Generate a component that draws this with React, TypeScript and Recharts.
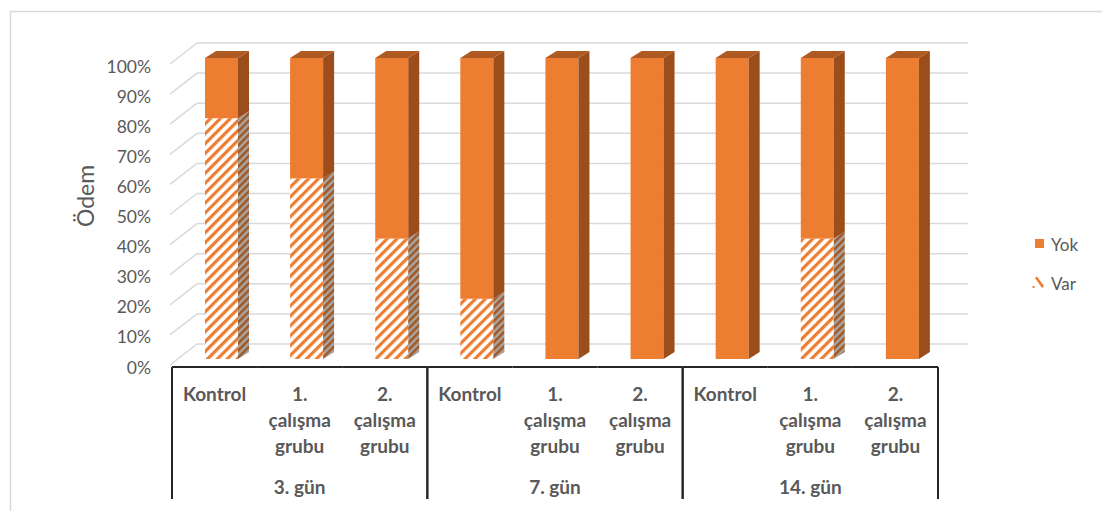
import { BarChart, Bar, XAxis, YAxis, CartesianGrid, Customized } from 'recharts';

const categories = [
  'Kontrol', '1. çalışma grubu', '2. çalışma grubu',
  'Kontrol', '1. çalışma grubu', '2. çalışma grubu',
  'Kontrol', '1. çalışma grubu', '2. çalışma grubu',
];
const groups = ['3. gün', '7. gün', '14. gün'];
const varValues = [80, 60, 40, 20, 0, 0, 0, 40, 0];
const yokValues = [20, 40, 60, 80, 100, 100, 100, 60, 100];
const yTicks = [0, 10, 20, 30, 40, 50, 60, 70, 80, 90, 100];
const seriesNames = ['Yok', 'Var'];

const data = categories.map((name, i) => ({
  key: `c${i}`,
  name,
  group: groups[Math.floor(i / 3)],
  Var: varValues[i],
  Yok: yokValues[i],
}));

const W = 1102;
const H = 511;
const margin = { top: 58, right: 164, bottom: 12, left: 100 };
const Y_AXIS_W = 72;
const X_AXIS_H = 140;
const plotLeft = margin.left + Y_AXIS_W;
const plotRight = W - margin.right;
const bandW = (plotRight - plotLeft) / categories.length;

const ORANGE = '#ED7D31';
const SIDE = '#9C4D1C';
const TOP = '#AE5A22';
const GRID = '#D9D9D9';
const TEXT = '#595959';
const FONT = 'Lato, "Open Sans", sans-serif';

// 3d look
const SHIFT = 7;
const DEPTH_X = 11;
const DEPTH_Y = 7;

function Box3D(props: any) {
  const { x, y, width, height, front, side, withTop } = props;
  if (height == null || width == null || height <= 0) return null;
  const fx = x + SHIFT;
  const r = fx + width;
  return (
    <g>
      <rect x={fx} y={y} width={width} height={height} fill={front} />
      <polygon
        points={`${r},${y} ${r + DEPTH_X},${y - DEPTH_Y} ${r + DEPTH_X},${y + height - DEPTH_Y} ${r},${y + height}`}
        fill={side}
      />
      {withTop && (
        <polygon
          points={`${fx},${y} ${fx + DEPTH_X},${y - DEPTH_Y} ${r + DEPTH_X},${y - DEPTH_Y} ${r},${y}`}
          fill={TOP}
        />
      )}
    </g>
  );
}

function GridLine(p: any) {
  const { x1, x2, y1, index } = p;
  return (
    <g key={`gl-${index}`}>
      <line x1={x1 - 2} y1={y1 + 6} x2={x1 + 25} y2={y1 - 15} stroke={GRID} strokeWidth={1.5} />
      <line x1={x1 + 25} y1={y1 - 15} x2={x2 + 30} y2={y1 - 15} stroke={GRID} strokeWidth={1.5} />
    </g>
  );
}

function YTick(p: any) {
  const { x, y, payload } = p;
  return (
    <text x={x - 21} y={y + 8} textAnchor="end" dominantBaseline="central" fill={TEXT} fontSize={17.5} fontFamily={FONT}>
      {`${payload.value}%`}
    </text>
  );
}

function XTick(p: any) {
  const { x, y, payload } = p;
  const i = payload.index;
  const lineY = y + 8;
  const lines = categories[i] === 'Kontrol' ? [categories[i]] : categories[i].split(' ');
  return (
    <g>
      <line x1={x - bandW / 2} y1={lineY} x2={x + bandW / 2} y2={lineY} stroke="#262626" strokeWidth={2} />
      {i % 3 === 0 && (
        <line x1={x - bandW / 2} y1={lineY} x2={x - bandW / 2} y2={lineY + 132} stroke="#262626" strokeWidth={2} />
      )}
      {i % 3 === 2 && (
        <line x1={x + bandW / 2} y1={lineY} x2={x + bandW / 2} y2={lineY + 132} stroke="#262626" strokeWidth={2} />
      )}
      {lines.map((t, k) => (
        <text key={k} x={x} y={lineY + 26 + k * 26} textAnchor="middle" dominantBaseline="central"
          fill={TEXT} fontSize={19} fontWeight="bold" fontFamily={FONT}>
          {t}
        </text>
      ))}
      {i % 3 === 1 && (
        <text x={x} y={lineY + 119} textAnchor="middle" dominantBaseline="central"
          fill={TEXT} fontSize={19} fontWeight="bold" fontFamily={FONT}>
          {groups[Math.floor(i / 3)]}
        </text>
      )}
    </g>
  );
}

function Extras() {
  return (
    <g>
      <rect x={10.5} y={11.5} width={1100} height={520} fill="none" stroke={GRID} strokeWidth={1.5} />
      <text x={85} y={196} transform="rotate(-90 85 196)" textAnchor="middle" dominantBaseline="central"
        fill={TEXT} fontSize={23} fontFamily={FONT}>
        Ödem
      </text>
      {/* legend */}
      <rect x={1035} y={239} width={9} height={9} fill={ORANGE} />
      <text x={1051} y={244} dominantBaseline="central" fill={TEXT} fontSize={17} fontFamily={FONT}>
        {seriesNames[0]}
      </text>
      <path d="M1035,278 L1037,276.5 L1044,286 L1042,288 Z" fill={ORANGE} />
      <rect x={1032.5} y={286} width={2} height={2} fill={ORANGE} />
      <text x={1051} y={283} dominantBaseline="central" fill={TEXT} fontSize={17} fontFamily={FONT}>
        {seriesNames[1]}
      </text>
    </g>
  );
}

export default function App() {
  return (
    <div style={{ position: 'absolute', left: 0, top: 0, width: W, height: H, background: '#fff' }}>
      <svg width={0} height={0} style={{ position: 'absolute' }}>
        <defs>
          <pattern id="hatch" width="7" height="7" patternUnits="userSpaceOnUse" patternTransform="rotate(45)">
            <rect width="7" height="7" fill="#fff" />
            <rect width="3.2" height="7" fill={ORANGE} />
          </pattern>
          <pattern id="hatchSide" width="5" height="5" patternUnits="userSpaceOnUse" patternTransform="rotate(45)">
            <rect width="5" height="5" fill="#A6A6A6" />
            <rect width="2.5" height="5" fill="#A3561F" />
          </pattern>
        </defs>
      </svg>
      <BarChart width={W} height={H} data={data} margin={margin} barSize={33}>
        <CartesianGrid vertical={false} horizontal={(p: any) => <GridLine {...p} />} />
        <XAxis
          dataKey="key"
          height={X_AXIS_H}
          axisLine={false}
          tickLine={false}
          tickSize={0}
          tickMargin={0}
          interval={0}
          tick={(p: any) => <XTick {...p} />}
        />
        <YAxis
          type="number"
          domain={[0, 100]}
          ticks={yTicks}
          width={Y_AXIS_W}
          axisLine={false}
          tickLine={false}
          tickSize={0}
          tickMargin={0}
          tick={(p: any) => <YTick {...p} />}
        />
        <Bar dataKey="Var" stackId="s" isAnimationActive={false}
          shape={(p: any) => <Box3D {...p} front="url(#hatch)" side="url(#hatchSide)" withTop={false} />} />
        <Bar dataKey="Yok" stackId="s" isAnimationActive={false}
          shape={(p: any) => <Box3D {...p} front={ORANGE} side={SIDE} withTop />} />
        <Customized component={Extras} />
      </BarChart>
    </div>
  );
}
